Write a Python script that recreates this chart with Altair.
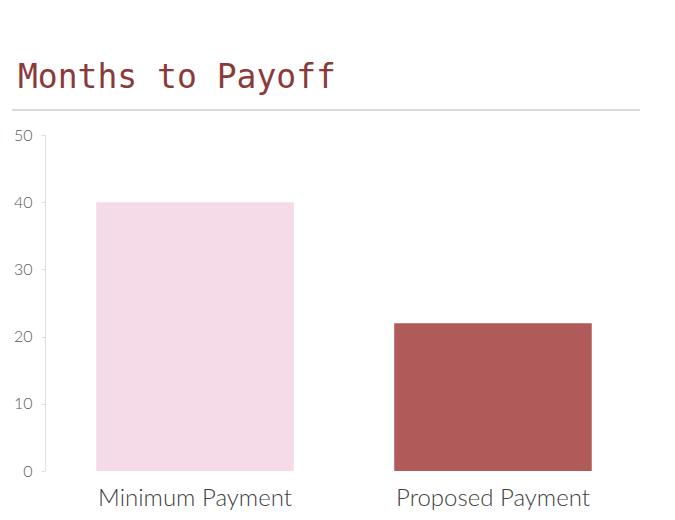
import altair as alt
import pandas as pd

categories = ["Minimum Payment", "Proposed Payment"]
months = [40, 22]
bar_colors = ["#F5DBE8", "#B05A5A"]
title_text = ["Months to Payoff"]
y_ticks = [0, 10, 20, 30, 40, 50]

df = pd.DataFrame({"category": categories, "months": months})
tdf = pd.DataFrame({"t": title_text})

bars = alt.Chart(df).mark_bar().encode(
    x=alt.X("category:N", sort=categories, title=None,
            scale=alt.Scale(paddingInner=0.337, paddingOuter=0.172),
            axis=alt.Axis(labelAngle=0, labelFont="Lato", labelFontSize=24,
                          labelFontWeight=300, labelLimit=0,
                          labelColor="#404040", labelPadding=15, ticks=False,
                          domain=False)),
    y=alt.Y("months:Q", title=None,
            scale=alt.Scale(domain=[0, 50]),
            axis=alt.Axis(values=y_ticks, labelFont="Lato", labelFontSize=16,
                          labelFontWeight=300,
                          labelColor="#595959", labelPadding=9, tickSize=4,
                          tickColor="#e0e0e0", domainColor="#e0e0e0",
                          grid=False)),
    color=alt.Color("category:N", scale=alt.Scale(domain=categories, range=bar_colors),
                    legend=None),
)

title = alt.Chart(tdf).mark_text(
    align="left", baseline="alphabetic", font="DejaVu Sans Mono",
    fontSize=33, color="#8B3A3A"
).encode(text="t:N", x=alt.value(-27), y=alt.value(-47))

rule = alt.Chart(tdf).mark_rule(color="#d9d9d9", strokeWidth=2).encode(
    x=alt.value(-33), x2=alt.value(595), y=alt.value(-25)
)

chart = alt.layer(bars, title, rule).properties(
    width=598, height=336,
    autosize=alt.AutoSizeParams(type="none"),
    padding={"left": 37, "top": 127, "right": 20, "bottom": 40},
).configure_view(stroke=None)

chart.save("out.html", embed_options={"renderer": "svg", "actions": False})
